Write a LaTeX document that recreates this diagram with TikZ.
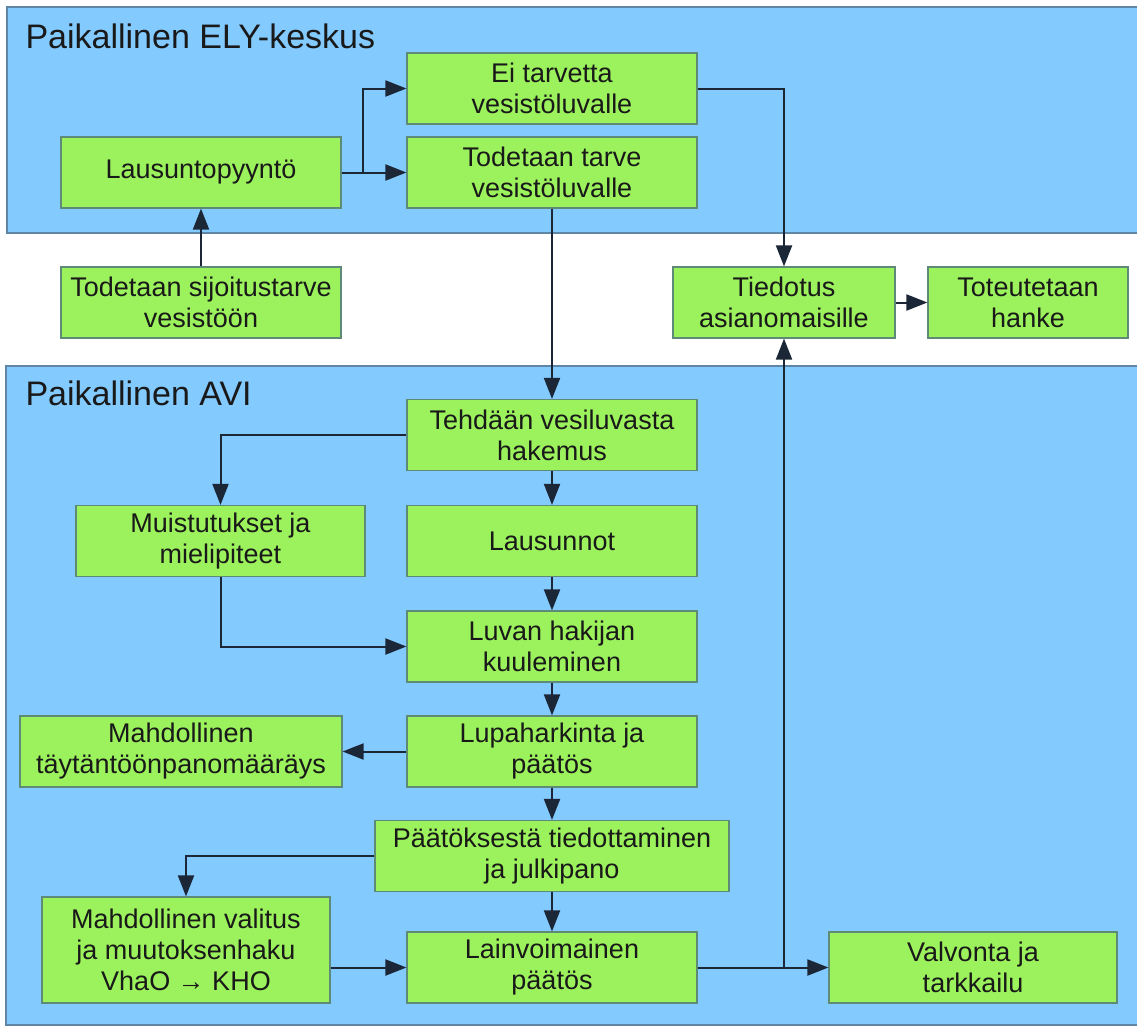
\documentclass[tikz,border=0pt]{standalone}
\usepackage{fontspec}
\setmainfont{Liberation Sans}
\usetikzlibrary{arrows.meta}
\definecolor{panelblue}{HTML}{83CAFF}
\definecolor{paneledge}{HTML}{5F86A6}
\definecolor{boxgreen}{HTML}{9CF25C}
\definecolor{boxedge}{HTML}{5E8A78}
\definecolor{linenavy}{HTML}{1B2636}
\begin{document}
\begin{tikzpicture}[x=1pt,y=-1pt,
    panel/.style={fill=panelblue,draw=paneledge,line width=1.5pt},
    title/.style={anchor=base west,text=black!90,font=\fontsize{34}{40}\selectfont},
    box/.style={draw=boxedge,fill=boxgreen,line width=1.2pt,align=center,inner sep=0pt,
      minimum height=71,text=black!90,font=\fontsize{27}{31}\selectfont},
    flow/.style={draw=linenavy,line width=2pt,-{Triangle[length=21pt,width=16pt]}}]
    \useasboundingbox (0,0) rectangle (1137,1026);
    \draw[panel] (7,7) rectangle (1150,233);
    \draw[panel] (6,366) rectangle (1150,1025);
    \node[title] (ely) at (22,48) {Paikallinen ELY-keskus};
    \node[title] (avi) at (22,405) {Paikallinen AVI};
    \foreach \n/\cx/\cy/\w/\t in {
      eitarve/552/88.5/290/{Ei tarvetta\\vesistöluvalle},
      pyynto/201/172.5/280/{Lausuntopyyntö},
      tarve/552/172.5/290/{Todetaan tarve\\vesistöluvalle},
      sijoitus/201/302.5/280/{Todetaan sijoitustarve\\vesistöön},
      tiedotus/784/302.5/222/{Tiedotus\\asianomaisille},
      hanke/1028/302.5/200/{Toteutetaan\\hanke},
      hakemus/552/435/290/{Tehdään vesiluvasta\\hakemus},
      muistutus/220.5/541/289/{Muistutukset ja\\mielipiteet},
      lausunnot/552/541/290/{Lausunnot},
      kuuleminen/552/646.5/290/{Luvan hakijan\\kuuleminen},
      taytanto/181/751.5/322/{Mahdollinen\\täytäntöönpanomääräys},
      paatos/552/751.5/290/{Lupaharkinta ja\\päätös},
      julkipano/552/856/354/{Päätöksestä tiedottaminen\\ja julkipano},
      lainvoima/552/967.5/290/{Lainvoimainen\\päätös},
      valvonta/973/967.5/288/{Valvonta ja\\tarkkailu}}
      {\node[box,minimum width=\w] (\n) at (\cx,\cy) {\t};}
    \node[box,minimum width=288,minimum height=106] (valitus) at (186,950) {Mahdollinen valitus\\ja muutoksenhaku\\VhaO → KHO};
    % ELY
    \draw[flow] (pyynto) -- (tarve);
    \draw[flow] (pyynto.east) -- ++(21,0) |- (eitarve);
    \draw[flow] (sijoitus) -- (pyynto);
    \draw[flow] (eitarve) -| (tiedotus);
    \draw[flow] (tiedotus) -- (hanke);
    \draw[flow] (tarve) -- (hakemus);
    % AVI
    \draw[flow] (hakemus) -| (muistutus);
    \draw[flow] (hakemus) -- (lausunnot);
    \draw[flow] (lausunnot) -- (kuuleminen);
    \draw[flow] (muistutus) |- (kuuleminen);
    \draw[flow] (kuuleminen) -- (paatos);
    \draw[flow] (paatos) -- (taytanto);
    \draw[flow] (paatos) -- (julkipano);
    \draw[flow] (julkipano) -| (valitus);
    \draw[flow] (julkipano) -- (lainvoima);
    \draw[flow] (valitus.east |- lainvoima) -- (lainvoima);
    \draw[flow] (lainvoima) -- (valvonta);
    \draw[flow] (lainvoima) -| (tiedotus);
\end{tikzpicture}
\end{document}
